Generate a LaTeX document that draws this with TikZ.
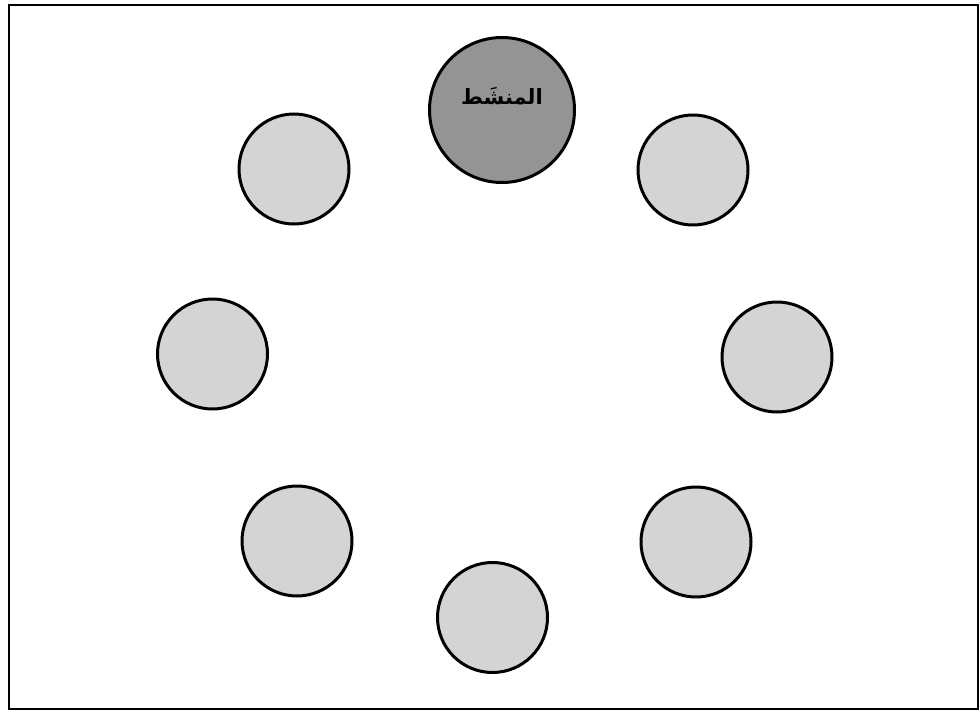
\documentclass[tikz,border=0pt]{standalone}
\usepackage{fontspec}
\TeXXeTstate=1
\newfontfamily\arabicfont[Script=Arabic]{DejaVu Sans}
\begin{document}
\begin{tikzpicture}[x=1pt,y={(0,-1pt)},
  member/.style={circle,draw=black,line width=3pt,fill=black!17,minimum size=110pt,inner sep=0pt},
  leader/.style={circle,draw=black,line width=3pt,fill=black!42,minimum size=145pt,inner sep=0pt,
    font=\arabicfont\bfseries\fontsize{21}{24}\selectfont},
  frame/.style={draw=black,line width=2.5pt}]
\useasboundingbox (0,0) rectangle (980,712);
\draw[frame] (9,5) rectangle (978,709);
\node[leader] (lead) at (502,110) {\raisebox{6pt}[0pt][0pt]{\beginR المنشَط\endR}};
\node[member] (tl) at (294,169) {};
\node[member] (tr) at (693,170) {};
\node[member] (l) at (212.5,354) {};
\node[member] (r) at (777,357) {};
\node[member] (bl) at (297,541) {};
\node[member] (br) at (696,542) {};
\node[member] (b) at (492.5,617.5) {};
\end{tikzpicture}
\end{document}
